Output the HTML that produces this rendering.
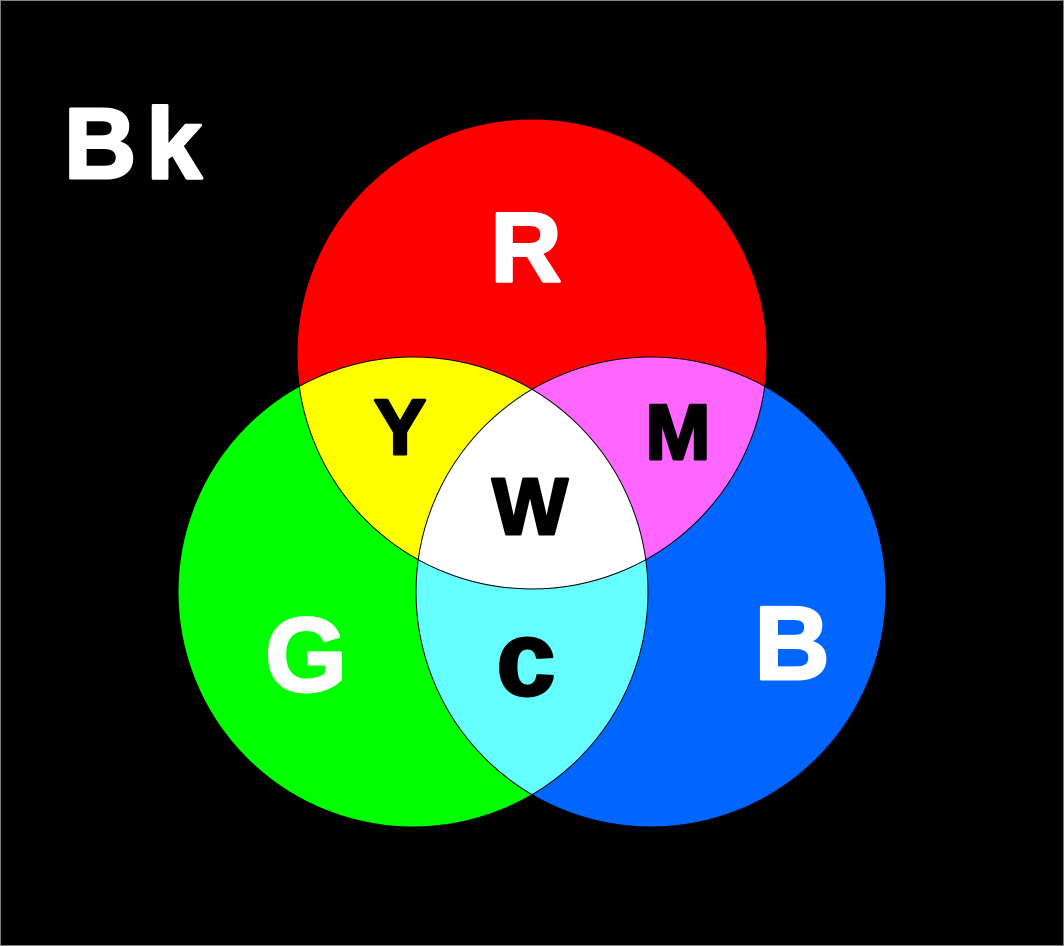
<!DOCTYPE html>
<html><head><style>
html,body{margin:0;padding:0;background:#000;}
svg{display:block;}
text{font-family:"Liberation Sans",Arial,sans-serif;font-weight:bold;}
</style></head><body>
<svg width="1064" height="946" viewBox="0 0 1064 946" xmlns="http://www.w3.org/2000/svg">
<defs>
<clipPath id="cr"><circle cx="532" cy="354" r="235"/></clipPath>
<clipPath id="cg"><circle cx="413" cy="592" r="235"/></clipPath>
<clipPath id="cb"><circle cx="651" cy="592" r="235"/></clipPath>
</defs>
<rect x="0.5" y="0.5" width="1063" height="945" fill="#000" stroke="#808080" stroke-width="1"/>
<circle cx="532" cy="354" r="235" fill="#ff0000"/>
<circle cx="413" cy="592" r="235" fill="#00ff00"/>
<circle cx="651" cy="592" r="235" fill="#0066ff"/>
<circle cx="413" cy="592" r="235" fill="#ffff00" clip-path="url(#cr)"/>
<circle cx="651" cy="592" r="235" fill="#ff66ff" clip-path="url(#cr)"/>
<circle cx="651" cy="592" r="235" fill="#66ffff" clip-path="url(#cg)"/>
<g clip-path="url(#cr)"><circle cx="651" cy="592" r="235" fill="#ffffff" clip-path="url(#cg)"/></g>
<g fill="none" stroke="#000" stroke-width="1">
<circle cx="532" cy="354" r="235"/>
<circle cx="413" cy="592" r="235"/>
<circle cx="651" cy="592" r="235"/>
</g>
<g stroke-width="3" stroke-linejoin="round">
<text x="64" y="178" font-size="100" fill="#fff" stroke="#fff" letter-spacing="10">Bk</text>
<text x="526" y="281" font-size="98" fill="#fff" stroke="#fff" text-anchor="middle">R</text>
<text x="400" y="454" font-size="78" fill="#000" stroke="#000" text-anchor="middle">Y</text>
<text x="678" y="459" font-size="78" fill="#000" stroke="#000" text-anchor="middle">M</text>
<text x="530" y="534" font-size="80" fill="#000" stroke="#000" text-anchor="middle">W</text>
<text x="306" y="691" font-size="105" fill="#fff" stroke="#fff" text-anchor="middle">G</text>
<text x="792" y="679" font-size="104" fill="#fff" stroke="#fff" text-anchor="middle">B</text>
<text x="526" y="695" font-size="106" fill="#000" stroke="#000" text-anchor="middle">c</text>
</g>
</svg>
</body></html>
